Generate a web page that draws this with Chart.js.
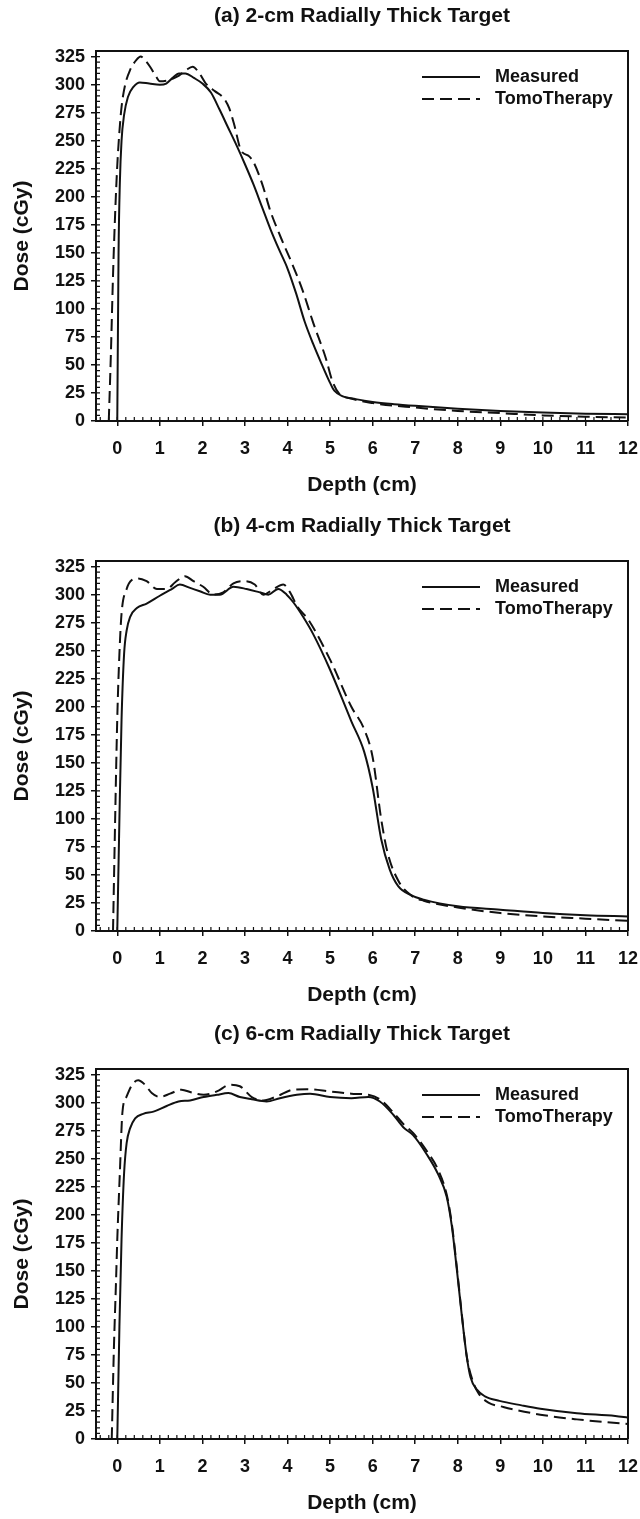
<!DOCTYPE html>
<html>
<head>
<meta charset="utf-8">
<script src="https://cdn.jsdelivr.net/npm/chart.js@4.4.1/dist/chart.umd.min.js"></script>
<style>
  html, body { margin: 0; padding: 0; background: #fff; }
  body { width: 640px; height: 1519px; position: relative; overflow: hidden; }
  canvas { position: absolute; left: 0; }
</style>
</head>
<body>
<canvas id="chartA" width="640" height="505" style="top:-3px"></canvas>
<canvas id="chartB" width="640" height="505" style="top:507px"></canvas>
<canvas id="chartC" width="640" height="505" style="top:1015px"></canvas>
<script>
// tick labels
const depthTicks = [0, 1, 2, 3, 4, 5, 6, 7, 8, 9, 10, 11, 12];
const doseTicks = [0, 25, 50, 75, 100, 125, 150, 175, 200, 225, 250, 275, 300, 325];
const seriesNames = ['Measured', 'TomoTherapy'];

// (a) 2-cm radially thick target
const aMeasX = [0, 0.03, 0.06, 0.1, 0.16, 0.25, 0.38, 0.53, 0.75, 1.0, 1.15, 1.3, 1.45, 1.6, 1.8, 2.0, 2.2, 2.4, 2.6, 2.8, 3.0, 3.2, 3.4, 3.6, 3.8, 4.0, 4.2, 4.4, 4.6, 4.8, 5.0, 5.1, 5.3, 5.6, 6.0, 6.5, 7.0, 8.0, 9.0, 10.0, 11.0, 12.0];
const aMeasY = [0, 150, 212, 250, 273, 289, 298, 302, 301, 300, 301, 306, 310, 310, 306, 301, 293, 278, 262, 246, 229, 211, 191, 171, 153, 136, 114, 89, 69, 51, 34, 27, 22, 19.5, 17, 15, 13.5, 11, 9, 7.5, 6.5, 6];
const aTomoX = [-0.2, -0.15, -0.1, -0.05, 0, 0.05, 0.1, 0.18, 0.3, 0.45, 0.55, 0.65, 0.77, 0.9, 1.0, 1.2, 1.45, 1.62, 1.77, 1.93, 2.08, 2.3, 2.5, 2.63, 2.75, 2.9, 3.1, 3.2, 3.4, 3.6, 3.85, 4.1, 4.35, 4.6, 4.9, 5.05, 5.2, 5.5, 6.0, 7.0, 8.0, 9.0, 10.0, 11.0, 12.0];
const aTomoY = [0, 60, 130, 185, 228, 258, 280, 299, 313, 322, 325, 322, 316, 308, 303, 304, 308, 313, 316, 310, 301, 294, 288, 279, 264, 242, 236, 231, 212, 187, 163, 141, 117, 88, 56, 36, 25, 20, 16, 12, 9, 7, 5, 3.8, 3];

// (b) 4-cm radially thick target
const bMeasX = [0, 0.05, 0.1, 0.16, 0.22, 0.3, 0.46, 0.69, 1.0, 1.28, 1.47, 1.71, 1.94, 2.18, 2.41, 2.73, 3.04, 3.35, 3.55, 3.78, 3.98, 4.14, 4.37, 4.6, 5.0, 5.5, 5.8, 6.0, 6.2, 6.4, 6.6, 6.9, 7.2, 8.0, 9.0, 10.0, 11.0, 12.0];
const bMeasY = [0, 100, 188, 247, 268, 280, 288, 292, 299, 305, 309, 306, 303, 300, 300, 307, 305, 302, 300, 305, 300, 293, 280, 265, 233, 187, 160, 128, 82, 55, 40, 32, 28, 22, 19, 16, 14, 13];
const bTomoX = [-0.1, -0.05, 0, 0.05, 0.1, 0.22, 0.34, 0.49, 0.69, 0.93, 1.16, 1.36, 1.59, 1.79, 2.02, 2.26, 2.49, 2.73, 3.0, 3.23, 3.43, 3.67, 3.9, 4.06, 4.22, 4.5, 5.0, 5.5, 5.8, 6.0, 6.2, 6.35, 6.6, 6.9, 7.2, 8.0, 9.0, 10.0, 11.0, 12.0];
const bTomoY = [0, 100, 190, 247, 283, 305, 313, 314.5, 312, 305, 305, 311, 316.5, 312, 307, 300, 302, 310, 312, 309, 300, 305, 309, 302, 290, 277, 242, 200, 180, 155, 100, 70, 45, 32, 27, 21, 16, 13, 11, 9];

// (c) 6-cm radially thick target
const cMeasX = [0, 0.05, 0.1, 0.16, 0.22, 0.3, 0.42, 0.61, 0.85, 1.16, 1.44, 1.71, 2.03, 2.34, 2.61, 2.88, 3.16, 3.51, 3.82, 4.22, 4.53, 5.0, 5.5, 5.9, 6.17, 6.49, 6.72, 6.95, 7.27, 7.54, 7.74, 7.86, 7.97, 8.09, 8.21, 8.3, 8.45, 8.64, 8.98, 9.5, 9.94, 10.8, 11.7, 12.0];
const cMeasY = [0, 100, 178, 237, 264, 277, 286, 290, 292, 297, 301, 302, 305, 307, 308.5, 305, 303, 301, 304, 307, 308, 305, 304, 305, 301, 289, 278, 271, 254, 236, 216, 190, 154, 112, 74, 55, 44, 38, 34, 30, 27, 23, 20.5, 19];
const cTomoX = [-0.13, -0.08, -0.03, 0, 0.06, 0.12, 0.22, 0.35, 0.49, 0.65, 0.81, 1.0, 1.24, 1.51, 1.75, 2.03, 2.34, 2.65, 2.88, 3.16, 3.43, 3.75, 4.14, 4.45, 5.0, 5.5, 5.9, 6.17, 6.49, 6.72, 6.95, 7.27, 7.54, 7.74, 7.86, 7.97, 8.09, 8.21, 8.35, 8.5, 8.72, 9.07, 9.94, 10.8, 12.0];
const cTomoY = [0, 80, 140, 178, 237, 291, 305.6, 316, 320, 316, 308.6, 305, 308, 311.6, 309, 307, 310, 316, 314.6, 305, 302, 305.6, 311.6, 312, 310, 308, 307, 303, 291, 281, 273, 257, 240, 218, 192, 156, 113, 74, 52, 40, 32.5, 28.6, 21.7, 17.5, 13.3];

const FONT = '"Liberation Sans", Arial, Helvetica, sans-serif';
const INK = '#111';

const toPoints = (xs, ys) => xs.map((x, i) => ({ x: x, y: ys[i] }));

// frame, inward minor ticks, in-plot legend and panel title
const panelDecor = {
    id: 'panelDecor',
    afterDraw(chart, args, opts) {
        const { ctx, chartArea: a } = chart;
        const xs = chart.scales.x, ys = chart.scales.y;
        ctx.save();
        ctx.strokeStyle = INK;
        ctx.lineWidth = 2;
        ctx.beginPath();
        ctx.moveTo(a.left, a.top);
        ctx.lineTo(a.right, a.top);
        ctx.lineTo(a.right, a.bottom);
        ctx.stroke();

        ctx.lineWidth = 1.2;
        ctx.beginPath();
        for (let v = 0; v <= ys.max; v += 5) {
            const py = ys.getPixelForValue(v);
            ctx.moveTo(a.left, py);
            ctx.lineTo(a.left + 4, py);
        }
        for (let k = -2; k <= 60; k++) {
            const px = xs.getPixelForValue(k * 0.2);
            ctx.moveTo(px, a.bottom);
            ctx.lineTo(px, a.bottom - 4);
        }
        ctx.stroke();

        // legend
        ctx.font = 'bold 18px ' + FONT;
        ctx.fillStyle = INK;
        ctx.textBaseline = 'middle';
        ctx.textAlign = 'left';
        chart.data.datasets.forEach((ds, i) => {
            const ly = a.top + 26 + 22 * i;
            ctx.lineWidth = 2;
            ctx.setLineDash(ds.borderDash || []);
            ctx.beginPath();
            ctx.moveTo(a.right - 206, ly);
            ctx.lineTo(a.right - 148, ly);
            ctx.stroke();
            ctx.setLineDash([]);
            ctx.fillText(ds.label, a.right - 133, ly);
        });

        // title
        ctx.font = 'bold 21px ' + FONT;
        ctx.textAlign = 'center';
        ctx.fillText(opts.title, (a.left + a.right) / 2, a.top - 35);
        ctx.restore();
    }
};

function makePanel(id, title, measX, measY, tomoX, tomoY) {
    const ctx = document.getElementById(id).getContext('2d');
    return new Chart(ctx, {
        type: 'line',
        data: {
            datasets: [
                {
                    label: seriesNames[0],
                    data: toPoints(measX, measY),
                    borderColor: INK,
                    borderWidth: 2,
                    pointRadius: 0,
                    cubicInterpolationMode: 'monotone',
                    fill: false
                },
                {
                    label: seriesNames[1],
                    data: toPoints(tomoX, tomoY),
                    borderColor: INK,
                    borderWidth: 2,
                    borderDash: [12, 6],
                    pointRadius: 0,
                    cubicInterpolationMode: 'monotone',
                    fill: false
                }
            ]
        },
        options: {
            responsive: false,
            animation: false,
            layout: { padding: { top: 54, right: 12, left: 0, bottom: 0 } },
            plugins: {
                legend: { display: false },
                tooltip: { enabled: false },
                panelDecor: { title: title }
            },
            scales: {
                x: {
                    type: 'linear',
                    min: -0.5,
                    max: 12,
                    afterBuildTicks: s => { s.ticks = depthTicks.map(v => ({ value: v })); },
                    afterFit: s => { s.height = 81; s.paddingLeft = 0; s.paddingRight = 0; },
                    ticks: {
                        color: INK,
                        padding: 12,
                        maxRotation: 0,
                        autoSkip: false,
                        font: { family: FONT, size: 18, weight: 'bold' }
                    },
                    grid: { drawOnChartArea: false, drawTicks: true, tickLength: 5, color: INK, lineWidth: 1.5 },
                    border: { color: INK, width: 2 },
                    title: {
                        display: true,
                        text: 'Depth (cm)',
                        color: INK,
                        font: { family: FONT, size: 21, weight: 'bold' },
                        padding: { top: 0, bottom: 4 }
                    }
                },
                y: {
                    type: 'linear',
                    min: 0,
                    max: 330,
                    afterBuildTicks: s => { s.ticks = doseTicks.map(v => ({ value: v })); },
                    afterFit: s => { s.width = 96; s.paddingTop = 0; s.paddingBottom = 0; },
                    ticks: {
                        color: INK,
                        padding: 6,
                        font: { family: FONT, size: 18, weight: 'bold' }
                    },
                    grid: { drawOnChartArea: false, drawTicks: true, tickLength: 5, color: INK, lineWidth: 1.5 },
                    border: { color: INK, width: 2 },
                    title: {
                        display: true,
                        text: 'Dose (cGy)',
                        color: INK,
                        font: { family: FONT, size: 21, weight: 'bold' },
                        padding: { top: 10, bottom: 0 }
                    }
                }
            }
        },
        plugins: [panelDecor]
    });
}

makePanel('chartA', '(a) 2-cm Radially Thick Target', aMeasX, aMeasY, aTomoX, aTomoY);
makePanel('chartB', '(b) 4-cm Radially Thick Target', bMeasX, bMeasY, bTomoX, bTomoY);
makePanel('chartC', '(c) 6-cm Radially Thick Target', cMeasX, cMeasY, cTomoX, cTomoY);
</script>
</body>
</html>
